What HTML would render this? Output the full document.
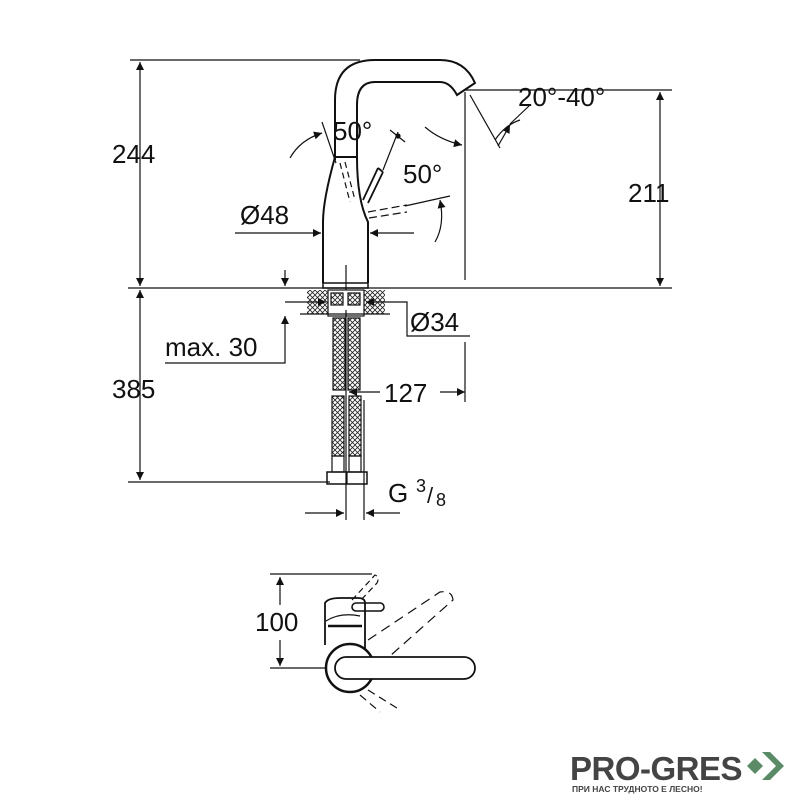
<!DOCTYPE html>
<html><head><style>html,body{margin:0;padding:0;background:#fff}svg{display:block}text{font-family:"Liberation Sans",sans-serif;fill:#111}</style></head>
<body>
<svg width="800" height="800" viewBox="0 0 800 800" xmlns="http://www.w3.org/2000/svg">
<defs>
<marker id="a" viewBox="0 0 10 10" refX="10" refY="5" markerWidth="14" markerHeight="8" orient="auto-start-reverse" markerUnits="userSpaceOnUse"><path d="M0,0L10,5L0,10z" fill="#111"/></marker>
<pattern id="h" width="5" height="5" patternUnits="userSpaceOnUse"><rect width="5" height="5" fill="#fff"/><path d="M0,0L5,5M5,0L0,5" stroke="#222" stroke-width="0.8"/></pattern>
</defs>
<g stroke="#111" fill="none" stroke-width="1.2">
<!-- main dims -->
<line x1="130" y1="60" x2="360" y2="60"/>
<line x1="140" y1="62" x2="140" y2="286" marker-start="url(#a)" marker-end="url(#a)"/>
<line x1="128" y1="288" x2="672" y2="288"/>
<line x1="465" y1="90" x2="672" y2="90"/>
<line x1="660" y1="92" x2="660" y2="286" marker-start="url(#a)" marker-end="url(#a)"/>
<line x1="465" y1="92" x2="465" y2="280"/>
<!-- spout -->
<path d="M335,160 V100 Q335,60 375,60 H440 Q465,60 475,83 L457,95 Q450,82 440,82 H375 Q357,82 357,105 V160" stroke-width="2"/>
<!-- body -->
<path d="M335,157 H357 Q357,200 368,222 V283 M335,157 Q323,200 323,222 V283" stroke-width="2"/>
<rect x="323" y="283" width="45" height="5" stroke-width="1.5"/>
<line x1="346" y1="265" x2="346" y2="290"/>
<!-- levers -->
<path d="M363,200 L378,168 M368,203 L383,172 M378,168 L383,172" stroke-width="1.8"/>
<line x1="383" y1="170" x2="398" y2="132"/>
<line x1="390" y1="130" x2="405" y2="142"/>
<circle cx="398" cy="136" r="2" fill="#111"/>
<path d="M340,163 L350,202 M345,162 L355,200" stroke-dasharray="6,4"/>
<path d="M368,212 L407,205 M369,218 L407,212" stroke-dasharray="8,4"/>
<line x1="405" y1="206" x2="450" y2="196"/>
<!-- angle arcs -->
<line x1="322" y1="122" x2="336" y2="163"/>
<path d="M290,158 Q300,140 322,133" marker-end="url(#a)"/>
<path d="M425,127 Q440,140 462,145" marker-end="url(#a)"/>
<path d="M435,242 Q445,225 440,200" marker-end="url(#a)"/>
<line x1="470" y1="95" x2="500" y2="148"/>
<path d="M495,140 Q505,125 520,120"/>
<line x1="510" y1="124" x2="530" y2="105"/>
<path d="M498,146 L510,125" marker-end="url(#a)"/>
<!-- Ø48 -->
<line x1="235" y1="233" x2="321" y2="233" marker-end="url(#a)"/>
<line x1="414" y1="233" x2="370" y2="233" marker-end="url(#a)"/>
<!-- deck -->
<rect x="307" y="290" width="78" height="24" fill="url(#h)" stroke="none"/>
<rect x="328" y="290" width="36" height="26" fill="#fff" stroke="#111"/>
<rect x="331" y="293" width="12" height="12" fill="url(#h)"/>
<rect x="348" y="293" width="12" height="12" fill="url(#h)"/>
<line x1="300" y1="314" x2="390" y2="314"/>
<line x1="285" y1="302" x2="326" y2="302" marker-end="url(#a)"/>
<line x1="405" y1="302" x2="366" y2="302" marker-end="url(#a)"/>
<path d="M405,302 H407 V336 H470"/>
<line x1="285" y1="340" x2="285" y2="316" marker-end="url(#a)"/>
<path d="M165,363 H285 V340"/>
<line x1="285" y1="270" x2="285" y2="286" marker-end="url(#a)"/>
<!-- hoses -->
<rect x="333" y="318" width="12" height="72" fill="url(#h)"/>
<rect x="348" y="318" width="12" height="72" fill="url(#h)"/>
<rect x="332" y="396" width="12" height="60" fill="url(#h)"/>
<rect x="349" y="396" width="12" height="60" fill="url(#h)"/>
<rect x="332" y="456" width="12" height="16"/>
<rect x="349" y="456" width="12" height="16"/>
<rect x="327" y="472" width="40" height="12" stroke-width="1.5"/>
<line x1="347" y1="472" x2="347" y2="484"/>
<line x1="346" y1="310" x2="346" y2="520"/>
<line x1="364" y1="400" x2="364" y2="520"/>
<!-- 385 -->
<line x1="140" y1="290" x2="140" y2="480" marker-start="url(#a)" marker-end="url(#a)"/>
<line x1="128" y1="482" x2="330" y2="482"/>
<!-- 127 -->
<line x1="380" y1="392" x2="349" y2="392" marker-end="url(#a)"/>
<line x1="440" y1="392" x2="465" y2="392" marker-end="url(#a)"/>
<line x1="465" y1="342" x2="465" y2="402"/>
<!-- G3/8 -->
<line x1="305" y1="513" x2="344" y2="513" marker-end="url(#a)"/>
<line x1="400" y1="513" x2="366" y2="513" marker-end="url(#a)"/>
<!-- bottom view -->
<line x1="270" y1="574" x2="372" y2="574"/>
<line x1="270" y1="668" x2="330" y2="668"/>
<line x1="280" y1="577" x2="280" y2="605" marker-start="url(#a)"/>
<line x1="280" y1="640" x2="280" y2="666" marker-end="url(#a)"/>
<path d="M325,645 V603 Q328,598 340,598 H358 Q365,598 365,603 V655" stroke-width="1.8"/>
<line x1="328" y1="626" x2="362" y2="626" stroke-width="2.5"/>
<path d="M326,621 Q340,612 360,616"/>
<rect x="352" y="603" width="32" height="8" rx="4" stroke-width="1.6"/>
<circle cx="350" cy="668" r="24" stroke-width="2.5" fill="#fff"/>
<rect x="335" y="657" width="140" height="22" rx="11" fill="#fff" stroke-width="1.8"/>
<path d="M352,600 L375,575 Q380,577 377,583 L360,601" stroke-dasharray="6,4"/>
<path d="M368,640 L440,592 Q452,590 453,600 L390,656" stroke-dasharray="10,6"/>
<path d="M368,690 L400,710 M360,695 L380,712" stroke-dasharray="8,5"/>
</g>
<g font-size="26">
<text x="112" y="163">244</text>
<text x="628" y="202">211</text>
<text x="112" y="398">385</text>
<text x="240" y="224">Ø48</text>
<text x="410" y="331">Ø34</text>
<text x="384" y="402">127</text>
<text x="165" y="356">max. 30</text>
<text x="333" y="140">50°</text>
<text x="403" y="183">50°</text>
<text x="518" y="106">20°-40°</text>
<text x="388" y="502">G</text>
<text x="416" y="492" font-size="18">3</text>
<text x="427" y="503" font-size="22">/</text>
<text x="436" y="506" font-size="18">8</text>
<text x="255" y="631">100</text>
</g>
<text x="570" y="780" font-size="33" font-weight="bold" style="fill:#444;letter-spacing:-0.5px">PRO-GRES</text>
<text x="572" y="792" font-size="8.5" font-weight="bold" style="fill:#444">ПРИ НАС ТРУДНОТО Е ЛЕСНО!</text>
<path d="M747,766 L755,758 L763,766 L755,774z" fill="#5b8a67"/>
<path d="M762,752 L770,752 L784,766 L770,780 L762,780 L776,766z" fill="#5b8a67"/>
</svg>
</body></html>
